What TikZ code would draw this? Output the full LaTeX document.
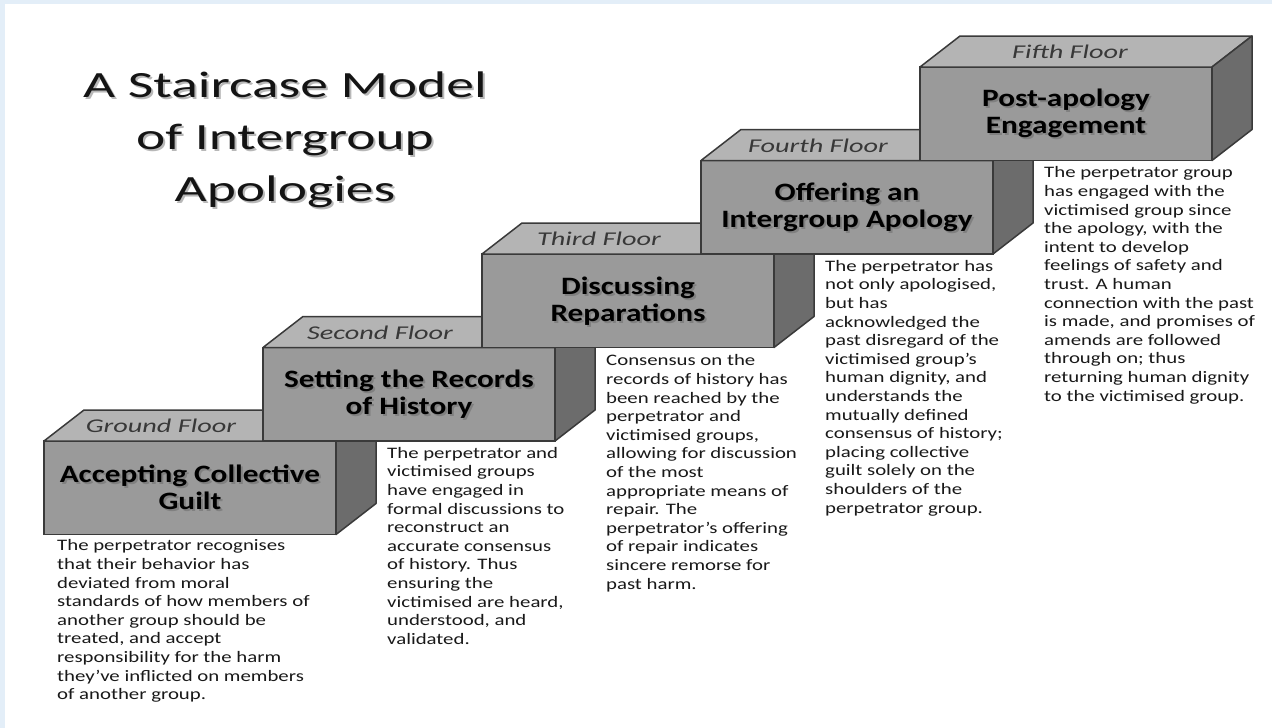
\documentclass[tikz,border=0pt]{standalone}
\usepackage{fontspec}
\setmainfont{Carlito}
\newfontfamily\headfont{Carlito}[FakeStretch=1.5]
\newfontfamily\stepfont{Carlito}[FakeStretch=1.25]
\newfontfamily\floorfont{Carlito}[FakeStretch=1.45]
\newfontfamily\descfont{Carlito}[FakeStretch=1.3]
\usetikzlibrary{positioning,calc}

\definecolor{frontgray}{RGB}{154,154,154}
\definecolor{topgray}{RGB}{180,180,180}
\definecolor{sidegray}{RGB}{108,108,108}
\definecolor{edgegray}{RGB}{58,58,58}
\definecolor{frameblue}{RGB}{227,238,248}

\tikzset{
  front/.style={draw=edgegray, line width=1.5pt, fill=frontgray, minimum width=292pt, minimum height=93.5pt, inner sep=0pt, outer sep=0pt},
  topface/.style={draw=edgegray, line width=1.5pt, fill=topgray, line join=round},
  sideface/.style={draw=edgegray, line width=1.5pt, fill=sidegray, line join=round},
  titletext/.style={align=center, font=\headfont\fontsize{37}{52}\selectfont, text=black!92},
  titleshadow/.style={titletext, text=black!28},
  steptext/.style={align=center, font=\stepfont\bfseries\fontsize{25}{27}\selectfont, text=black},
  stepshadow/.style={steptext, text=black!50},
  floortext/.style={font=\floorfont\itshape\fontsize{19.5}{24}\selectfont, text=black!78},
  desc/.style={align=left, inner sep=0pt, font=\descfont\fontsize{16}{18.6}\selectfont, text=black!90},
}

\begin{document}
\begin{tikzpicture}[x=1pt,y=-1pt]
\useasboundingbox (0,0) rectangle (1272,728);
\fill[frameblue] (0,0) rectangle (1272,728);
\fill[white] (5,4) rectangle (1272,728);

% title
\node[titleshadow] (titleshade) at (287,142) {A Staircase Model\\of Intergroup\\Apologies};
\node[titletext] (title) at (285,140) {A Staircase Model\\of Intergroup\\Apologies};

% ground floor
\node[front] (f0) at (190,487.75) {};
\filldraw[topface] (f0.north west) -- ++(40,-31) -- ++(292,0) -- (f0.north east) -- cycle;
\filldraw[sideface] (f0.north east) -- ++(40,-31) -- ++(0,93.5) -- (f0.south east) -- cycle;
\node[floortext] (l0) at ($(f0.north west)+(117,-15)$) {Ground Floor};
\node[stepshadow] (s0) at ($(f0.center)+(2,2)$) {Accepting Collective\\Guilt};
\node[steptext] (t0) at (f0.center) {Accepting Collective\\Guilt};
\node[desc, below right=5pt and 13pt of f0.south west] (d0) {\fontsize{16}{19}\selectfont
The perpetrator recognises\\that their behavior has\\deviated from moral\\standards of how members of\\another group should be\\treated, and accept\\responsibility for the harm\\they’ve inflicted on members\\of another group.};

% second floor
\node[front, above right=0pt and -73pt of f0] (f1) {};
\filldraw[topface] (f1.north west) -- ++(40,-31) -- ++(292,0) -- (f1.north east) -- cycle;
\filldraw[sideface] (f1.north east) -- ++(40,-31) -- ++(0,93.5) -- (f1.south east) -- cycle;
\node[floortext] (l1) at ($(f1.north west)+(117,-15)$) {Second Floor};
\node[stepshadow] (s1) at ($(f1.center)+(2,2)$) {Setting the Records\\of History};
\node[steptext] (t1) at (f1.center) {Setting the Records\\of History};
\node[desc, below right=6pt and 124pt of f1.south west] (d1) {The perpetrator and\\victimised groups\\have engaged in\\formal discussions to\\reconstruct an\\accurate consensus\\of history. Thus\\ensuring the\\victimised are heard,\\understood, and\\validated.};

% third floor
\node[front, above right=0pt and -73pt of f1] (f2) {};
\filldraw[topface] (f2.north west) -- ++(40,-31) -- ++(292,0) -- (f2.north east) -- cycle;
\filldraw[sideface] (f2.north east) -- ++(40,-31) -- ++(0,93.5) -- (f2.south east) -- cycle;
\node[floortext] (l2) at ($(f2.north west)+(117,-15)$) {Third Floor};
\node[stepshadow] (s2) at ($(f2.center)+(2,2)$) {Discussing\\Reparations};
\node[steptext] (t2) at (f2.center) {Discussing\\Reparations};
\node[desc, below right=7pt and 124pt of f2.south west] (d2) {Consensus on the\\records of history has\\been reached by the\\perpetrator and\\victimised groups,\\allowing for discussion\\of the most\\appropriate means of\\repair. The\\perpetrator’s offering\\of repair indicates\\sincere remorse for\\past harm.};

% fourth floor
\node[front, above right=0pt and -73pt of f2] (f3) {};
\filldraw[topface] (f3.north west) -- ++(40,-31) -- ++(292,0) -- (f3.north east) -- cycle;
\filldraw[sideface] (f3.north east) -- ++(40,-31) -- ++(0,93.5) -- (f3.south east) -- cycle;
\node[floortext] (l3) at ($(f3.north west)+(117,-15)$) {Fourth Floor};
\node[stepshadow] (s3) at ($(f3.center)+(2,2)$) {Offering an\\Intergroup Apology};
\node[steptext] (t3) at (f3.center) {Offering an\\Intergroup Apology};
\node[desc, below right=6pt and 124pt of f3.south west] (d3) {The perpetrator has\\not only apologised,\\but has\\acknowledged the\\past disregard of the\\victimised group’s\\human dignity, and\\understands the\\mutually defined\\consensus of history;\\placing collective\\guilt solely on the\\shoulders of the\\perpetrator group.};

% fifth floor
\node[front, above right=0pt and -73pt of f3] (f4) {};
\filldraw[topface] (f4.north west) -- ++(40,-31) -- ++(292,0) -- (f4.north east) -- cycle;
\filldraw[sideface] (f4.north east) -- ++(40,-31) -- ++(0,93.5) -- (f4.south east) -- cycle;
\node[floortext] (l4) at ($(f4.north west)+(150,-15)$) {Fifth Floor};
\node[stepshadow] (s4) at ($(f4.center)+(2,2)$) {Post-apology\\Engagement};
\node[steptext] (t4) at (f4.center) {Post-apology\\Engagement};
\node[desc, below right=6pt and 124pt of f4.south west] (d4) {The perpetrator group\\has engaged with the\\victimised group since\\the apology, with the\\intent to develop\\feelings of safety and\\trust. A human\\connection with the past\\is made, and promises of\\amends are followed\\through on; thus\\returning human dignity\\to the victimised group.};
\end{tikzpicture}
\end{document}
